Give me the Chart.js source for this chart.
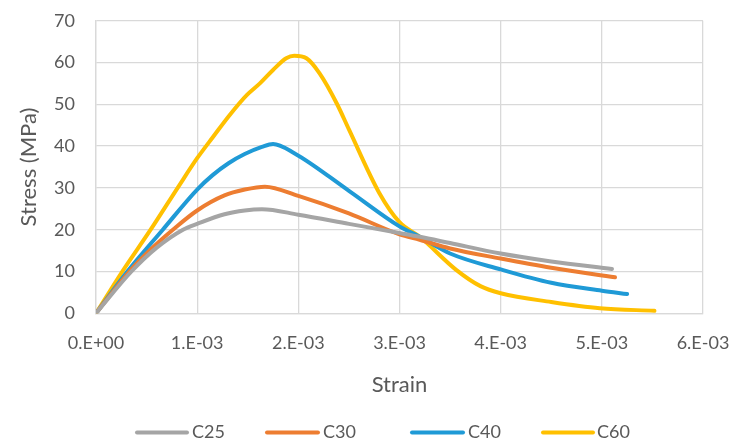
<!DOCTYPE html>
<html><head><meta charset="utf-8">
<script src="https://cdn.jsdelivr.net/npm/chart.js@4/dist/chart.umd.min.js"></script>
<style>html,body{margin:0;padding:0;background:#fff}#wrap{width:732px;height:441px}</style>
</head><body><div id="wrap"><canvas id="c" width="732" height="441"></canvas></div>
<script>
const seriesNames = ['C25','C30','C40','C60'];
const seriesColors = ['#A5A5A5','#ED7D31','#1F9AD6','#FFC000'];
const xTickLabels = ['0.E+00','1.E-03','2.E-03','3.E-03','4.E-03','5.E-03','6.E-03'];
const strainC25 = [0,0.00035,0.0006,0.00086,0.001,0.00127,0.00147,0.00164,0.002,0.0025,0.003,0.0032,0.0035,0.004,0.0045,0.0051];
const stressC25 = [0,10.0,15.7,20.0,21.4,23.7,24.6,24.9,23.6,21.4,19.2,18.3,16.8,14.3,12.4,10.6];
const strainC30 = [0,0.00033,0.00055,0.00076,0.001,0.00127,0.00147,0.00167,0.002,0.0025,0.003,0.0032,0.0035,0.004,0.0045,0.00513];
const stressC30 = [0,10.0,15.5,20.0,24.6,28.2,29.6,30.3,28.1,23.9,18.9,17.6,15.5,13.1,10.9,8.6];
const strainC40 = [0,0.00031,0.00066,0.001,0.00115,0.00131,0.00147,0.00164,0.00175,0.00196,0.0025,0.003,0.0032,0.0035,0.004,0.0045,0.005,0.00525];
const stressC40 = [0,10.0,20.0,29.6,33.0,35.9,38.1,39.8,40.5,38.3,29.3,20.8,18.3,14.3,10.5,7.3,5.4,4.6];
const strainC60 = [0,0.00026,0.00054,0.00082,0.001,0.00116,0.00132,0.00149,0.00162,0.00175,0.00188,0.00196,0.00208,0.00221,0.00238,0.0025,0.0028,0.003,0.0032,0.00356,0.0038,0.004,0.0045,0.00498,0.00552];
const stressC60 = [0,10.0,20.0,30.5,37.1,42.3,47.4,52.2,55.0,58.2,61.0,61.6,61.0,57.4,50.2,44.0,28.8,21.8,18.3,10.4,6.5,4.8,2.7,1.2,0.6];

const xs = [strainC25,strainC30,strainC40,strainC60];
const ys = [stressC25,stressC30,stressC40,stressC60];
const datasets = seriesNames.map((n,i)=>({
  label:n,
  data: xs[i].map((x,j)=>({x:x,y:ys[i][j]})),
  borderColor: seriesColors[i],
  backgroundColor: seriesColors[i],
  borderWidth: 4,
  pointRadius: 0,
  showLine: true,
  cubicInterpolationMode: 'monotone',
  borderCapStyle: 'round',
  borderJoinStyle: 'round'
}));
const FONT = 'Lato, "Open Sans", sans-serif';
const TXT = '#595959';

// legend drawn at Excel-like item positions
const legendItems = [[137,187,192],[267,318,323],[412,463,468],[543,593,597]];
const customLegend = {
  id: 'customLegend',
  afterDraw(chart) {
    const ctx = chart.ctx;
    ctx.save();
    ctx.font = '18px ' + FONT;
    ctx.textBaseline = 'middle';
    ctx.textAlign = 'left';
    chart.data.datasets.forEach((ds, i) => {
      const [x0, x1, tx] = legendItems[i];
      ctx.strokeStyle = ds.borderColor;
      ctx.lineWidth = 4;
      ctx.lineCap = 'round';
      ctx.beginPath(); ctx.moveTo(x0, 432.5); ctx.lineTo(x1, 432.5); ctx.stroke();
      ctx.fillStyle = TXT;
      ctx.fillText(ds.label, tx, 432);
    });
    ctx.restore();
  }
};

new Chart(document.getElementById('c'), {
  type: 'scatter',
  data: { datasets },
  plugins: [customLegend],
  options: {
    responsive: false,
    animation: false,
    layout: { padding: { left: 0, right: 29, top: 20.7, bottom: 0 } },
    plugins: { tooltip: { enabled: false }, legend: { display: false } },
    scales: {
      x: {
        type: 'linear', min: 0, max: 0.006,
        afterBuildTicks: s => { s.ticks = xTickLabels.map((t,i)=>({value: i*0.001})); },
        ticks: { color: TXT, font: { family: FONT, size: 18 }, padding: 19, maxRotation: 0,
          callback: (v, i) => xTickLabels[i] },
        grid: { color: '#D9D9D9', lineWidth: 1.3, drawTicks: false },
        border: { color: '#D9D9D9', width: 1.3 },
        title: { display: true, text: 'Strain', color: TXT, font: { family: FONT, size: 22 }, padding: { top: 0, bottom: 43 } },
        afterFit: s => { s.height = 127.7; s.paddingLeft = 0; s.paddingRight = 0; }
      },
      y: {
        min: 0, max: 70,
        ticks: { stepSize: 10, color: TXT, font: { family: FONT, size: 18 }, padding: 21 },
        grid: { color: '#D9D9D9', lineWidth: 1.3, drawTicks: false },
        border: { color: '#D9D9D9', width: 1.3 },
        title: { display: true, text: 'Stress (MPa)', color: TXT, font: { family: FONT, size: 22 }, padding: { top: 16, bottom: 0 } },
        afterFit: s => { s.width = 96; s.paddingTop = 0; s.paddingBottom = 0; }
      }
    }
  }
});
</script></body></html>
